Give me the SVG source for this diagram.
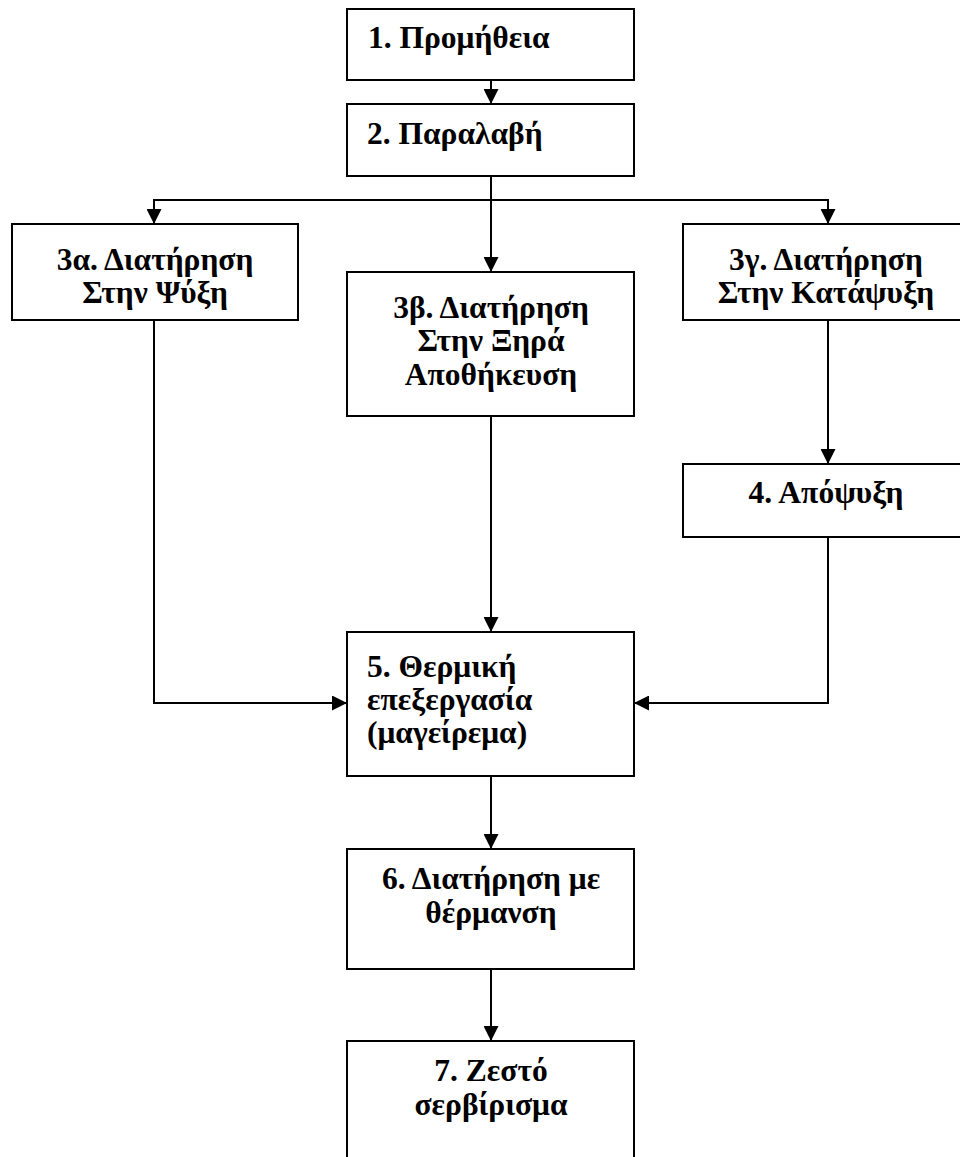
<svg xmlns="http://www.w3.org/2000/svg" width="960" height="1157" viewBox="0 0 960 1157">
  <style>
    .box { fill: #ffffff; stroke: #000000; stroke-width: 2; }
    .lbl { font-family: "Liberation Serif", "Times New Roman", "DejaVu Serif", serif; font-weight: bold; font-size: 31.5px; fill: #000000; }
    .mid { text-anchor: middle; }
    .wire { fill: none; stroke: #000000; stroke-width: 2; marker-end: url(#arrow); }
    .plain { fill: none; stroke: #000000; stroke-width: 2; }
  </style>
  <defs>
    <marker id="arrow" markerUnits="userSpaceOnUse" viewBox="0 0 15 15" refX="15" refY="7.5" markerWidth="15" markerHeight="15" orient="auto">
      <path d="M0,0 L15,7.5 L0,15 z" fill="#000000"/>
    </marker>
  </defs>
  <rect width="960" height="1157" fill="#ffffff"/>

  <!-- connectors -->
  <g id="connectors">
    <line class="wire" x1="491" y1="80" x2="491" y2="104"/>
    <line class="plain" x1="154" y1="200" x2="828" y2="200"/>
    <line class="wire" x1="491" y1="176" x2="491" y2="272"/>
    <line class="wire" x1="154" y1="199" x2="154" y2="224"/>
    <line class="wire" x1="828" y1="199" x2="828" y2="224"/>
    <polyline class="wire" points="154,320 154,703 347,703"/>
    <line class="wire" x1="491" y1="416" x2="491" y2="632"/>
    <line class="wire" x1="828" y1="320" x2="828" y2="464"/>
    <polyline class="wire" points="828,537 828,703 634,703"/>
    <line class="wire" x1="491" y1="776" x2="491" y2="849"/>
    <line class="wire" x1="491" y1="969" x2="491" y2="1041"/>
  </g>

  <!-- 1 -->
  <g id="n1">
    <rect class="box" x="347" y="9" width="287" height="71"/>
    <text class="lbl" x="368" y="48">1. Προμήθεια</text>
  </g>

  <!-- 2 -->
  <g id="n2">
    <rect class="box" x="347" y="104" width="287" height="72"/>
    <text class="lbl" x="367" y="144">2. Παραλαβή</text>
  </g>

  <!-- 3a -->
  <g id="n3a">
    <rect class="box" x="12" y="224" width="286" height="96"/>
    <text class="lbl mid" x="155" y="270">3α. Διατήρηση</text>
    <text class="lbl mid" x="155" y="303">Στην Ψύξη</text>
  </g>

  <!-- 3b -->
  <g id="n3b">
    <rect class="box" x="347" y="272" width="287" height="144"/>
    <text class="lbl mid" x="491" y="318">3β. Διατήρηση</text>
    <text class="lbl mid" x="491" y="351">Στην Ξηρά</text>
    <text class="lbl mid" x="491" y="385">Αποθήκευση</text>
  </g>

  <!-- 3c -->
  <g id="n3c">
    <rect class="box" x="683" y="224" width="287" height="96"/>
    <text class="lbl mid" x="826" y="270">3γ. Διατήρηση</text>
    <text class="lbl mid" x="826" y="303">Στην Κατάψυξη</text>
  </g>

  <!-- 4 -->
  <g id="n4">
    <rect class="box" x="683" y="464" width="287" height="73"/>
    <text class="lbl mid" x="826" y="503">4. Απόψυξη</text>
  </g>

  <!-- 5 -->
  <g id="n5">
    <rect class="box" x="347" y="632" width="287" height="144"/>
    <text class="lbl" x="367" y="677">5. Θερμική</text>
    <text class="lbl" x="367" y="710">επεξεργασία</text>
    <text class="lbl" x="367" y="743">(μαγείρεμα)</text>
  </g>

  <!-- 6 -->
  <g id="n6">
    <rect class="box" x="347" y="849" width="287" height="120"/>
    <text class="lbl mid" x="491" y="889">6. Διατήρηση με</text>
    <text class="lbl mid" x="491" y="923">θέρμανση</text>
  </g>

  <!-- 7 -->
  <g id="n7">
    <rect class="box" x="347" y="1041" width="287" height="140"/>
    <text class="lbl mid" x="491" y="1081">7. Ζεστό</text>
    <text class="lbl mid" x="491" y="1115">σερβίρισμα</text>
  </g>
</svg>
